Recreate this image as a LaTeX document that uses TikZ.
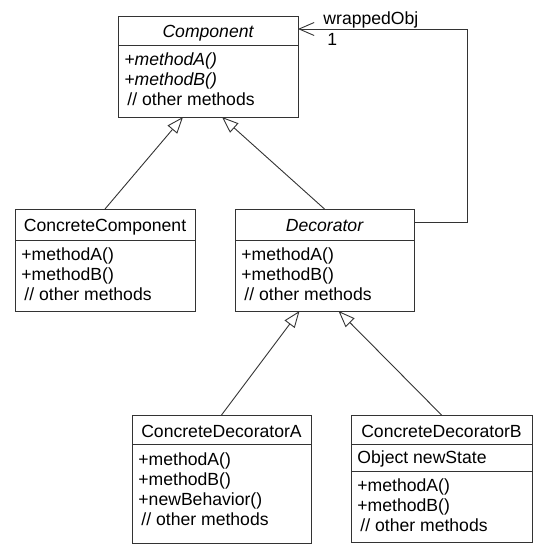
\documentclass[tikz,border=0pt]{standalone}
\usepackage{fontspec}
\setmainfont{Liberation Sans}
\usetikzlibrary{arrows.meta,calc}

\begin{document}
\begin{tikzpicture}[x=1pt,y=-1pt,line width=0.9pt,
  font=\fontsize{17.6}{20}\selectfont,
  cls/.style={draw=black!80,rectangle,inner sep=0,outer sep=0,anchor=north west},
  ln/.style={anchor=base west,inner sep=0},
  hd/.style={anchor=base,inner sep=0},
  sep/.style={draw=black!80},
  inh/.style={draw=black!80,-{Triangle[open,length=16.5pt,width=12.5pt]}},
  assoc/.style={draw=black!80,-{Straight Barb[length=15pt,width=13pt]}}]
\useasboundingbox (0,0) rectangle (540,554);

% abstract component
\node[cls,minimum width=180pt,minimum height=101pt] (comp) at (118,16) {};
\draw[sep] ($(comp.north west)+(0,29)$) -- ($(comp.north east)+(0,29)$);
\node[hd] (compT) at ($(comp.north)+(0,21)$) {\itshape Component};
\foreach \t [count=\i from 0] in {{\itshape +methodA()},{\itshape +methodB()},{\hspace{3pt}// other methods}}
  \node[ln] (comp\i) at ($(comp.north west)+(6,49+20*\i)$) {\t};

% concrete component
\node[cls,minimum width=180pt,minimum height=102pt] (cc) at (15,209) {};
\draw[sep] ($(cc.north west)+(0,31)$) -- ($(cc.north east)+(0,31)$);
\node[hd] (ccT) at ($(cc.north)+(0,22)$) {ConcreteComponent};
\foreach \t [count=\i from 0] in {+methodA(),+methodB(),{\hspace{3pt}// other methods}}
  \node[ln] (cc\i) at ($(cc.north west)+(6,51+20*\i)$) {\t};

% decorator
\node[cls,minimum width=179pt,minimum height=102pt] (dec) at (235,209) {};
\draw[sep] ($(dec.north west)+(0,31)$) -- ($(dec.north east)+(0,31)$);
\node[hd] (decT) at ($(dec.north)+(0,22)$) {\itshape Decorator};
\foreach \t [count=\i from 0] in {+methodA(),+methodB(),{\hspace{3pt}// other methods}}
  \node[ln] (dec\i) at ($(dec.north west)+(6,51+20*\i)$) {\t};

% concrete decorators
\node[cls,minimum width=179pt,minimum height=128pt] (cda) at (132,415) {};
\draw[sep] ($(cda.north west)+(0,29)$) -- ($(cda.north east)+(0,29)$);
\node[hd] (cdaT) at ($(cda.north)+(0,22)$) {ConcreteDecoratorA};
\foreach \t [count=\i from 0] in {+methodA(),+methodB(),+newBehavior(),{\hspace{3pt}// other methods}}
  \node[ln] (cda\i) at ($(cda.north west)+(6,50+20*\i)$) {\t};

\node[cls,minimum width=181pt,minimum height=127pt] (cdb) at (351,415) {};
\draw[sep] ($(cdb.north west)+(0,29)$) -- ($(cdb.north east)+(0,29)$);
\draw[sep] ($(cdb.north west)+(0,56)$) -- ($(cdb.north east)+(0,56)$);
\node[hd] (cdbT) at ($(cdb.north)+(0,22)$) {ConcreteDecoratorB};
\node[ln] (cdbA) at ($(cdb.north west)+(6,48)$) {Object newState};
\foreach \t [count=\i from 0] in {+methodA(),+methodB(),{\hspace{3pt}// other methods}}
  \node[ln] (cdb\i) at ($(cdb.north west)+(6,76+20*\i)$) {\t};

% generalisation
\coordinate (compL) at ($(comp.south)+(-25,0)$);
\coordinate (compR) at ($(comp.south)+(14,0)$);
\coordinate (decL) at ($(dec.south)+(-25,0)$);
\coordinate (decR) at ($(dec.south)+(14,0)$);
\draw[inh] (cc.north) -- (compL);
\draw[inh] (dec.north) -- (compR);
\draw[inh] (cda.north) -- (decL);
\draw[inh] (cdb.north) -- (decR);

% wrapped object
\coordinate (decE) at ($(dec.north east)+(0,13)$);
\coordinate (compE) at ($(comp.north east)+(0,13)$);
\draw[assoc] (decE) -- ++(53,0) |- (compE);
\node[ln] (role) at ($(compE)+(25,-5)$) {wrappedObj};
\node[ln] (mult) at ($(compE)+(29,16)$) {1};
\end{tikzpicture}
\end{document}
